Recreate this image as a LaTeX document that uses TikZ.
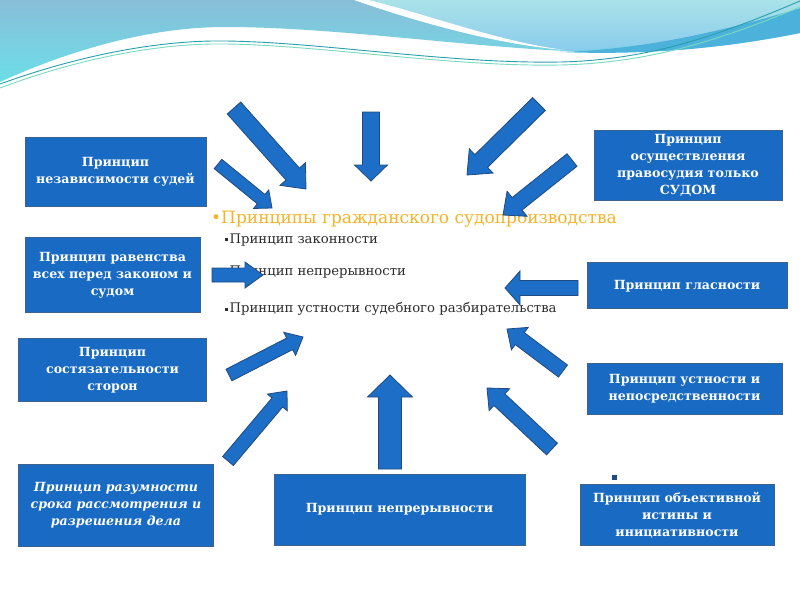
\documentclass[tikz,border=0pt]{standalone}
\usepackage{fontspec}
\setmainfont{DejaVu Serif}
\usepackage{xcolor}
\usepackage{tikz}
\usetikzlibrary{calc, positioning}

\definecolor{boxblue}{RGB}{24,106,194}
\definecolor{boxline}{RGB}{62,98,140}
\definecolor{arrowblue}{RGB}{28,110,198}
\definecolor{arrowline}{RGB}{32,74,128}
\definecolor{titleorange}{RGB}{243,180,40}
\definecolor{itemgray}{RGB}{45,45,45}
\definecolor{waveblue}{RGB}{136,190,216}
\definecolor{wavecyan}{RGB}{108,222,232}
\definecolor{wavelight}{RGB}{170,226,232}
\definecolor{wavesky}{RGB}{138,204,236}
\definecolor{waveband}{RGB}{76,178,220}
\definecolor{lineteal}{RGB}{38,160,170}
\definecolor{linegreen}{RGB}{120,218,190}

\tikzset{
    principle/.style={
        rectangle,
        draw=boxline,
        line width=0.8pt,
        fill=boxblue,
        text=white,
        align=center,
        inner sep=2pt,
        font=\bfseries\fontsize{12.6}{17}\selectfont
    },
    blockarrow/.style={
        draw=arrowline,
        line width=0.8pt,
        fill=arrowblue,
        line join=miter
    },
    headline/.style={
        text=titleorange,
        inner sep=0pt,
        font=\fontsize{17}{20}\selectfont
    },
    item/.style={
        text=itemgray,
        inner sep=0pt,
        font=\fontsize{13.2}{15}\selectfont
    }
}

% block arrow: tail, tip, half shaft, half head, head length
\newcommand{\fatarrow}[5]{%
    \coordinate (hb) at ($(#2)!#5!(#1)$);
    \draw[blockarrow] ($(#1)!#3!90:(#2)$) -- ($(hb)!#3!90:(#2)$) -- ($(hb)!#4!90:(#2)$)
        -- (#2) -- ($(hb)!#4!-90:(#2)$) -- ($(hb)!#3!-90:(#2)$) -- ($(#1)!#3!-90:(#2)$) -- cycle;
}
\newcommand{\sqbullet}{\rule[0.3ex]{3pt}{3pt}\hspace{1.5pt}}

\begin{document}
\begin{tikzpicture}[x=1pt, y=-1pt]

\useasboundingbox (0,0) rectangle (800,600);
\fill[white] (0,0) rectangle (800,600);

% Wave at the top
\shade[top color=waveblue, bottom color=wavecyan]
    (0,0) -- (0,82) .. controls (70,50) and (150,27) .. (225,27)
    .. controls (330,27) and (450,45) .. (565,51)
    .. controls (660,56) and (740,45) .. (800,33) -- (800,0) -- cycle;
\fill[waveband] (560,52) .. controls (660,56) and (740,45) .. (800,33)
    -- (800,8) .. controls (720,32) and (640,50) .. (560,52) -- cycle;
\shade[top color=wavelight, bottom color=wavesky]
    (362,0) .. controls (420,20) and (500,44) .. (565,50)
    .. controls (640,50) and (720,32) .. (800,8) -- (800,0) -- cycle;
\fill[white] (354,0) .. controls (420,23) and (500,45) .. (565,50)
    .. controls (500,42) and (430,15) .. (368,0) -- cycle;
\draw[lineteal, line width=0.9pt] (0,84) .. controls (80,55) and (160,40) .. (225,41)
    .. controls (320,42) and (450,64) .. (560,62) .. controls (650,60) and (720,35) .. (800,1);
\draw[linegreen, line width=0.9pt] (0,88) .. controls (80,58) and (160,43) .. (225,44)
    .. controls (320,45) and (450,67) .. (560,65) .. controls (650,63) and (720,40) .. (800,7);

% Left column
\node[principle, minimum width=181pt, minimum height=69pt] (indep) at (115.5,171.5) {Принцип\\независимости судей};
\node[principle, below=31pt of indep, xshift=-3pt, minimum width=175pt, minimum height=75pt] (equal) {Принцип равенства\\всех перед законом и\\судом};
\node[principle, below=25pt of equal, minimum width=188pt, minimum height=63pt] (advers) {Принцип\\состязательности\\сторон};
\node[principle, below=62pt of advers, xshift=3.5pt, minimum width=195pt, minimum height=82pt,
      font=\bfseries\itshape\fontsize{12.6}{17}\selectfont] (term) {Принцип разумности\\срока рассмотрения и\\разрешения дела};

% Bottom middle
\node[principle, minimum width=251pt, minimum height=71pt] (contin) at (399.5,509.5) {Принцип непрерывности};

% Right column
\node[principle, minimum width=188pt, minimum height=70pt] (court) at (688,165) {Принцип\\осуществления\\правосудия только\\СУДОМ};
\node[principle, below=62pt of court, xshift=-1pt, minimum width=200pt, minimum height=46pt] (public) {Принцип гласности};
\node[principle, below=54pt of public, xshift=-2.5pt, minimum width=195pt, minimum height=51pt] (oral) {Принцип устности и\\непосредственности};
\node[principle, below=69pt of oral, xshift=-7.5pt, minimum width=194pt, minimum height=61pt] (truth) {Принцип объективной\\истины и\\инициативности};
\node[fill=arrowline, minimum size=5pt, inner sep=0pt] (mark) at (614,477) {};

% Centre text
\node[headline, anchor=west] (title) at (211,219) {•Принципы гражданского судопроизводства};
\node[item, anchor=west] (legal) at (225,240) {\sqbullet Принцип законности};
\node[item, anchor=west] (nonstop) at (225,272) {\sqbullet Принцип непрерывности};
\node[item, anchor=west] (hearing) at (225,309) {\sqbullet Принцип устности судебного разбирательства};

% Arrows
\coordinate (a1-tail) at (218,164);  \coordinate (a1-tip) at (272,208);
\coordinate (a2-tail) at (234,108);  \coordinate (a2-tip) at (306,189);
\coordinate (a3-tail) at (371,112);  \coordinate (a3-tip) at (371,181);
\coordinate (a4-tail) at (539,104);  \coordinate (a4-tip) at (467,175);
\coordinate (a5-tail) at (572,160);  \coordinate (a5-tip) at (503,215);
\coordinate (a6-tail) at (578,288);  \coordinate (a6-tip) at (505,288);
\coordinate (a7-tail) at (212,275);  \coordinate (a7-tip) at (263,275);
\coordinate (a8-tail) at (229,375);  \coordinate (a8-tip) at (303,337);
\coordinate (a9-tail) at (228,461);  \coordinate (a9-tip) at (287,391);
\coordinate (a10-tail) at (390,469); \coordinate (a10-tip) at (390,375);
\coordinate (a11-tail) at (563,371); \coordinate (a11-tip) at (507,329);
\coordinate (a12-tail) at (552,449); \coordinate (a12-tip) at (487,388);

\foreach \n/\s/\w/\l in {a1/6/12/14, a2/9/17/20, a3/8.5/16.5/16, a4/9/17/20,
        a5/8/16/18, a6/7.5/17/15, a7/7/13/18, a8/6.5/13/15, a9/7/13/15,
        a10/11.5/22.5/22, a11/7.5/14/16, a12/8/15/17}
    \fatarrow{\n-tail}{\n-tip}{\s pt}{\w pt}{\l pt};

\end{tikzpicture}
\end{document}
